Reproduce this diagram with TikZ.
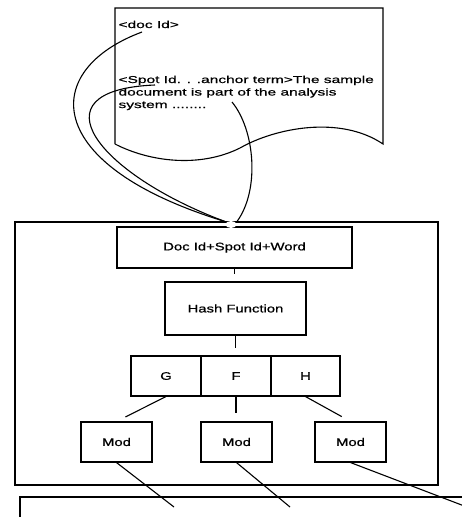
\documentclass[tikz,border=0pt]{standalone}
\usepackage{fontspec}
\setmainfont{Liberation Sans}
\newfontfamily\docfont[FakeStretch=1.55, FakeBold=0.8]{Liberation Sans}
\newfontfamily\boxfont[FakeStretch=1.35, FakeBold=0.8]{Liberation Sans}
\begin{document}
\begin{tikzpicture}[x=1pt, y=-1pt, line width=1.1pt,
  box/.style={draw, rectangle, inner sep=0pt, line width=1.1pt,
    font=\boxfont\fontsize{11}{13}\selectfont},
  doctext/.style={anchor=base west, inner sep=0pt,
    font=\docfont\fontsize{10}{12}\selectfont},
  link/.style={line width=1.1pt},
  gap/.style={shorten >=7pt}]
\useasboundingbox (0,0) rectangle (462,517);

% source document with a wavy lower edge
\draw (115,144) -- (115,8) -- (383,8) -- (383,144)
  .. controls (340,115) and (275,128) .. (240,148)
  .. controls (200,168) and (150,162) .. (115,144);
\node[doctext] (tagdoc) at (118,28) {<doc Id>};
\node[doctext] (tagline1) at (118,83) {<Spot Id. . .anchor term>The sample};
\node[doctext] (tagline2) at (118,95.5) {document is part of the analysis};
\node[doctext] (tagline3) at (118,108) {system ........};

% indexing frame
\draw (15,222) rectangle (438,485);
\node[box, minimum width=235, minimum height=41] (key) at (234.5,247.5) {Doc Id+Spot Id+Word};
\node[box, minimum width=141, minimum height=53] (hash) at (235.5,308.5) {Hash Function};
\node[box, minimum width=70, minimum height=40] (g) at (166,376) {G};
\node[box, minimum width=70, minimum height=40] (f) at (236,376) {F};
\node[box, minimum width=69, minimum height=40] (h) at (305.5,376) {H};
\node[box, minimum width=71, minimum height=40] (mod1) at (116.5,442) {Mod};
\node[box, minimum width=71, minimum height=40] (mod2) at (236.5,442) {Mod};
\node[box, minimum width=71, minimum height=40] (mod3) at (350.5,442) {Mod};

% target store below
\draw (20,530) -- (20,497) -- (475,497);

% entry point on the frame
\fill[white] (231,224.5) ellipse (5.5 and 3.5);
\coordinate (hubL) at (225,221.5);
\coordinate (hubR) at (237,221.5);

% links from the document into the frame
\coordinate (fromdoc) at (142,32);
\coordinate (fromspot) at (155,85);
\coordinate (fromtext) at (232,102);
\draw[link] (fromdoc) .. controls (40,70) and (40,165) .. (hubL);
\draw[link] (fromspot) .. controls (30,90) and (100,175) .. (hubL);
\draw[link] (fromtext) .. controls (255,130) and (260,190) .. (hubR);

% flow inside the frame
\draw[link, gap] (key.south) -- (key.south |- hash.north);
\draw[link, gap] (hash.south) -- (hash.south |- f.north);
\draw[link, shorten >=10pt] (g.south) -- (mod1.north);
\draw[link, shorten >=8pt] (f.south) -- (f.south |- mod2.north);
\draw[link, shorten >=10pt] (h.south) -- (mod3.north);

% outputs into the store
\coordinate (out1) at (174,507);
\coordinate (out2) at (290,507);
\coordinate (out3) at (480,512);
\draw[link] (mod1.south) -- (out1);
\draw[link] (mod2.south) -- (out2);
\draw[link] (mod3.south) -- (out3);
\end{tikzpicture}
\end{document}
